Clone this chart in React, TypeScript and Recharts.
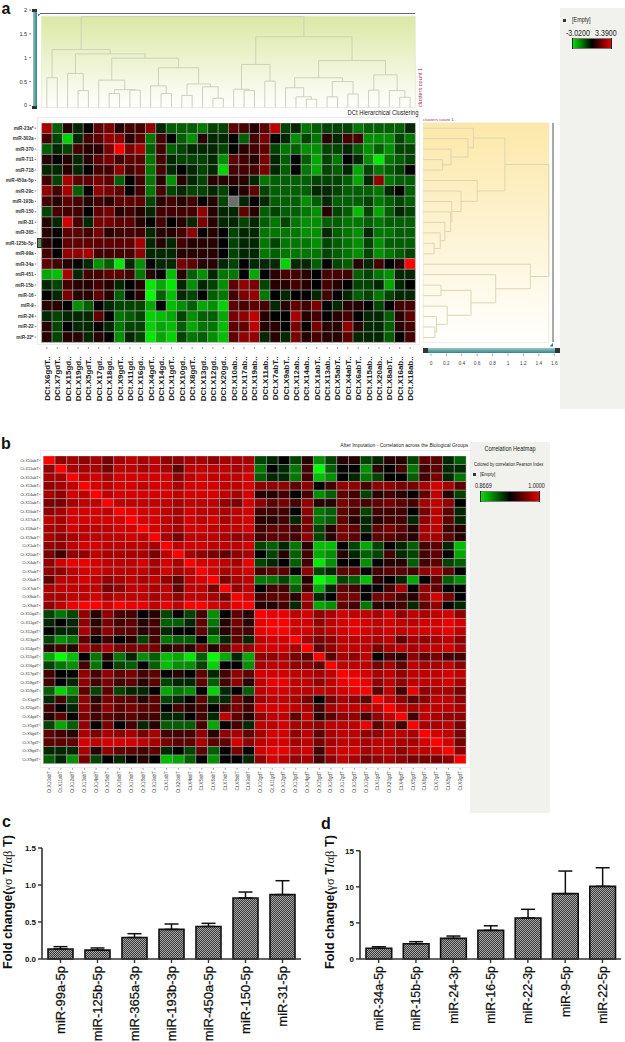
import React from "react";
import {
  Bar,
  BarChart,
  ErrorBar,
  ReferenceArea,
  Scatter,
  ScatterChart,
  XAxis,
  YAxis,
} from "recharts";

// levels -10 (pure green) .. 10 (pure red), null = missing
const clusterRowLabels = ["miR-23a*", "miR-302a", "miR-370", "miR-711", "miR-718", "miR-450a-5p", "miR-29c", "miR-193b", "miR-150", "miR-31", "miR-365", "miR-125b-5p", "miR-99a", "miR-34a", "miR-451", "miR-15b", "miR-16", "miR-9", "miR-24", "miR-22", "miR-22*"];
const clusterColLabels = ["X6gdT", "X7gdT", "X15gd", "X19gd", "X5gdT", "X17gd", "X18gd", "X9gdT", "X11gd", "X16gd", "X4gdT", "X14gd", "X1gdT", "X10gd", "X8gdT", "X13gd", "X12gd", "X20gd", "X10ab", "X17ab", "X19ab", "X11ab", "X7abT", "X9abT", "X12ab", "X14ab", "X1abT", "X13ab", "X5abT", "X4abT", "X6abT", "X15ab", "X20ab", "X8abT", "X16ab", "X18ab"];
const clusterLevels: (number | null)[][] = [
  [6,-3,1,-1,0,3,4,1,2,2,5,-1,-3,-3,-3,-4,-2,-2,3,2,1,3,7,-2,-1,-4,-3,-2,-2,-2,-4,-3,-3,-3,-3,-1],
  [2,-2,-8,-1,2,3,5,5,1,3,-4,2,0,-3,-5,1,-1,-1,0,-3,2,4,0,-1,-5,-2,-4,1,-1,2,2,-5,-5,-5,-2,-4],
  [-3,-1,-2,2,1,1,4,10,4,6,-3,2,-3,-2,-1,-1,-1,-2,0,1,2,3,-2,-4,-3,-5,-5,-2,-2,-1,-3,-5,-3,-5,-2,-2],
  [1,0,1,-1,1,3,4,2,3,3,-4,2,-1,-2,-2,-2,-1,-5,3,2,1,4,-1,-3,0,-3,-6,-2,-4,0,-1,-5,-9,-4,-3,-2],
  [-1,-1,1,-1,0,2,2,5,2,3,-4,2,-1,0,-1,-2,-1,-8,2,2,2,4,-1,-3,0,-4,-6,-2,-3,-1,-6,-2,-4,-3,-2,0],
  [2,-2,6,3,3,4,3,-3,0,2,-4,1,-5,1,-1,-2,1,1,1,1,-1,-4,-3,-3,-3,-3,-2,-2,-2,-3,-6,-1,5,-4,-3,-3],
  [5,2,6,-3,0,5,4,3,0,2,-4,2,-2,-1,-2,-2,-1,-2,0,1,3,-2,-3,-3,-3,-3,-1,-1,-2,-3,-3,-3,-4,-1,0,-3],
  [2,1,3,2,1,2,1,3,3,3,-2,1,2,1,2,0,1,-2,null,-1,0,-1,-3,-3,-3,-5,-3,-1,-3,-3,-3,-2,-4,-3,-2,-3],
  [-2,2,2,2,0,3,4,1,2,1,-1,2,2,2,2,5,1,-1,-1,3,1,-3,-2,-3,-3,-4,-5,1,-2,-3,-7,-2,-6,-3,-1,-2],
  [1,-1,8,2,-1,4,4,3,3,1,0,2,0,1,-1,4,1,-1,-1,-2,-1,-3,-4,-2,-4,-5,-5,-3,-3,-4,-4,-3,-4,-3,-3,-3],
  [1,0,3,3,2,4,1,2,2,2,-1,1,1,2,5,0,1,0,-2,-1,-1,-4,-4,-4,-4,-5,-5,-1,-3,-4,-5,-1,-4,-4,-3,-3],
  [1,0,3,3,3,3,3,3,3,6,-1,1,-1,2,1,1,1,0,-2,-1,-1,-4,-2,-4,-4,-4,-5,-2,-3,-4,-5,-2,-5,-3,-3,-3],
  [2,0,5,5,6,2,2,2,2,5,-1,-1,-1,1,1,1,1,0,-2,-1,-1,-4,-3,-4,-4,-4,-4,-2,-3,-4,-5,-2,-5,-4,-3,-2],
  [3,2,1,0,-1,-5,-3,-9,-1,-5,0,-1,-1,4,3,1,1,-1,-2,0,-1,-1,-1,-8,-1,-1,-3,0,-2,-3,1,-1,2,0,1,10],
  [-6,-7,6,-1,2,2,3,3,2,-4,1,0,-7,1,-3,-5,-1,-4,-4,0,-6,0,1,2,2,1,0,2,2,2,-3,-2,-4,-5,-1,-1],
  [-1,-2,2,1,1,2,1,-1,0,1,-9,-6,-9,-1,-5,-1,-2,-5,3,5,4,-2,1,1,2,1,0,2,1,0,-2,-2,-1,-6,-1,0],
  [0,-1,4,1,1,3,1,-3,0,1,-10,-3,-7,-1,-2,0,-3,-4,2,4,5,-4,0,-1,0,0,-1,2,0,-1,-3,-2,-4,-2,-1,-1],
  [1,1,0,-5,-3,0,-1,-2,-2,-2,-6,0,-7,-5,-3,-6,-5,-8,3,2,3,2,-1,1,3,2,4,0,-1,1,1,0,-2,0,2,2],
  [-1,-2,-1,-1,-1,3,0,-4,-3,-2,-8,-7,-6,-2,-5,-3,-3,-6,4,5,7,1,0,0,6,1,2,0,1,2,0,-1,-1,-3,1,3],
  [1,-2,0,-1,-1,0,-1,-4,-2,-2,-8,-6,-7,-3,-6,-4,-4,-7,3,3,7,1,1,0,4,0,4,1,1,5,1,-1,-1,-3,1,2],
  [1,-2,1,1,-1,1,0,-5,-1,-2,-9,-6,-8,-2,-4,-3,-5,-7,3,5,5,-1,1,-1,4,1,2,1,1,3,-1,-1,-1,-3,0,2],
];

const sampleIds = ["X10", "X11", "X12", "X13", "X14", "X15", "X16", "X17", "X18", "X19", "X1", "X20", "X4", "X5", "X6", "X7", "X8", "X9"];
const corrLabels = [...sampleIds.map((s) => `Ct.${s}abT`), ...sampleIds.map((s) => `Ct.${s}gdT`)];
const corrLevels: number[][] = [
  [10,5,6,5,6,4,6,7,6,7,5,5,6,6,5,6,6,6,-2,-1,0,-2,1,-5,-2,1,1,-2,-1,1,1,-2,3,3,-1,-3],
  [5,10,6,6,6,4,7,7,6,7,6,3,7,7,7,7,6,7,-4,0,-1,-4,2,-10,-3,0,0,-5,1,0,2,-4,2,3,-1,-1],
  [6,6,10,7,8,6,8,8,8,8,8,5,7,8,7,7,7,8,-3,-1,-1,-4,2,-7,-5,0,-1,-4,-2,0,0,-3,2,4,-1,-4],
  [5,6,7,10,8,7,8,8,7,8,8,6,8,8,8,7,7,8,5,5,5,3,5,0,2,5,5,2,5,5,4,4,6,8,6,3],
  [6,5,8,7,10,7,8,8,8,8,8,7,8,8,8,7,6,8,1,1,2,0,2,-5,-3,3,2,-2,1,2,1,0,3,7,1,-2],
  [4,4,6,7,7,10,7,7,7,7,7,6,7,7,7,5,4,8,5,3,4,2,5,1,1,4,3,2,3,4,3,2,6,7,5,0],
  [5,6,8,8,8,7,10,9,8,8,7,6,8,7,7,6,7,8,2,2,2,0,5,-4,-3,3,2,-2,2,2,2,0,4,7,3,-1],
  [7,6,8,8,8,8,8,10,8,8,7,6,8,7,8,6,7,8,1,1,2,-1,4,-4,-3,3,1,-1,1,2,2,-1,5,7,3,-1],
  [6,6,8,7,7,7,8,8,10,8,7,6,8,8,7,7,7,8,2,3,3,2,4,-2,1,4,3,-1,3,4,3,1,6,7,2,1],
  [6,5,6,7,7,7,7,8,7,10,6,4,7,7,7,6,5,6,2,3,3,2,5,-2,1,4,3,0,3,3,2,1,6,6,3,1],
  [5,5,7,8,8,7,7,7,7,6,10,7,8,8,7,7,7,8,-2,-3,-1,-4,1,-7,-7,0,-2,-6,-2,0,-1,-3,2,3,-1,-7],
  [4,2,5,5,7,6,6,6,6,4,7,10,6,5,4,3,5,6,0,-2,1,-3,2,-6,-5,1,-1,-3,-2,2,-1,-2,2,3,0,-6],
  [5,8,9,9,8,7,7,7,8,6,8,6,10,8,8,7,6,9,-2,-1,0,-3,2,-9,-5,0,0,-5,0,1,1,-3,2,3,-2,-3],
  [5,5,7,8,8,7,7,7,7,6,8,6,7,10,8,6,7,8,2,3,3,0,5,-2,-1,3,3,0,2,3,3,2,5,6,3,0],
  [3,7,7,8,7,5,6,7,6,7,5,3,7,8,10,4,6,7,-4,-4,-2,-5,1,-10,-8,-2,-3,-7,1,0,-1,-6,0,3,-3,-5],
  [6,7,7,7,7,4,5,7,7,6,7,3,7,7,4,10,5,7,0,2,2,-3,2,-6,-1,3,2,0,0,2,6,0,5,3,0,0],
  [6,6,7,7,8,6,7,7,7,6,7,5,7,7,6,4,10,8,2,3,3,1,6,-1,0,4,4,0,4,4,2,1,5,8,4,0],
  [5,7,9,10,10,8,10,9,9,7,9,7,10,10,8,7,9,10,1,1,2,-1,5,-6,-5,3,2,-4,1,1,2,-1,3,5,0,-1],
  [-2,-4,-2,5,1,5,2,2,0,1,-2,0,-2,2,-5,0,3,1,10,9,9,7,8,5,6,8,7,7,6,8,5,7,6,7,8,5],
  [-1,0,-1,5,1,4,2,3,1,2,-3,-3,-1,3,-4,1,4,1,9,10,10,8,8,5,7,8,9,8,7,8,7,7,8,8,9,8],
  [0,-1,-1,6,2,5,3,3,1,2,-1,0,0,3,-2,1,3,2,9,10,10,8,8,6,7,8,9,8,7,8,7,8,8,8,9,7],
  [-2,-5,-4,3,0,2,0,1,-2,2,-4,-3,-3,0,-5,-1,3,-1,7,8,8,10,6,4,5,7,7,7,6,7,3,6,5,6,7,5],
  [1,2,1,6,4,6,4,4,4,4,1,2,1,4,1,3,6,5,8,8,8,6,10,3,5,7,7,7,4,6,7,6,7,7,8,6],
  [-6,-10,-7,0,-4,1,-4,-1,-5,-3,-7,-6,-9,-3,-10,-6,-1,-6,5,5,6,4,3,10,3,6,5,7,0,2,1,5,3,4,2,2],
  [-2,-4,-5,2,-4,0,-2,-3,0,-3,-7,-5,-5,-2,-8,0,0,-5,6,7,7,5,5,3,10,7,7,7,4,6,3,7,6,6,7,5],
  [2,0,0,5,2,5,3,4,2,3,0,1,0,3,-1,2,5,3,8,8,8,7,7,6,7,10,9,8,6,7,5,7,7,7,8,7],
  [2,0,-1,5,2,4,2,3,1,3,-2,-1,-1,3,-3,2,5,1,7,9,9,7,7,5,7,9,10,9,5,7,5,7,7,7,8,6],
  [-3,-8,-5,3,-2,3,-2,-1,-1,0,-6,-4,-5,0,-8,-1,0,-3,7,8,8,7,7,7,7,8,9,10,3,7,2,9,5,6,6,4],
  [-1,2,-2,5,1,4,3,3,1,3,-2,-1,0,3,-2,-1,4,1,6,7,7,6,4,0,4,6,5,3,10,7,5,3,5,7,7,5],
  [2,0,-1,5,2,5,3,4,3,3,0,2,1,2,0,2,4,2,8,8,8,7,6,2,6,7,7,7,7,10,7,6,7,7,7,6],
  [1,3,0,4,2,3,2,3,2,2,-1,-1,0,2,-1,7,3,1,5,7,7,3,7,1,3,5,5,2,5,7,10,2,7,6,5,5],
  [-2,-6,-3,5,0,4,0,2,-1,1,-3,-3,-3,2,-6,0,2,-1,7,7,8,6,6,5,7,7,7,9,3,6,2,10,6,6,7,4],
  [3,2,1,6,4,6,5,6,4,6,2,2,2,5,1,5,6,3,6,8,8,5,7,3,6,7,7,5,5,7,7,6,10,8,7,4],
  [3,3,3,8,7,8,8,8,7,6,4,3,3,6,3,3,8,5,7,8,8,6,7,4,6,7,7,6,7,7,6,6,8,10,8,4],
  [-1,-1,-1,6,1,5,3,3,2,3,-1,0,-2,3,-3,0,4,0,8,9,9,7,8,2,7,8,8,6,7,7,5,7,7,8,10,5],
  [-3,-1,-5,4,-2,0,-1,0,1,0,-7,-6,-3,0,-5,0,0,-1,5,8,7,5,6,2,5,7,6,4,5,6,5,4,4,4,5,10],
];

// dendrograms: [merge height, child, child], a bare number is a leaf index
type Tree = number | [number, Tree, Tree];
const columnTree: Tree = [1.86,
  [1.17, [0.58, 0, 1],
    [1.08, [0.67, 2, [0.31, 3, 4]],
      [0.99, [0.53, 5, [0.33, [0.25, 6, 7], [0.32, 8, 9]]],
        [0.79, [0.41, 10, [0.25, 11, 12]],
          [0.45, [0.21, 13, 14], [0.39, 15, [0.15, 16, 17]]]]]]],
  [1.44, [0.86, [0.34, 18, [0.31, 19, 20]], [0.51, 21, 22]],
    [0.94, [0.58, [0.37, 23, [0.18, 24, [0.13, 25, 26]]], [0.5, [0.18, 27, 28], [0.24, 29, 30]]],
      [0.64, [0.32, 31, 32], [0.31, 33, [0.17, 34, 35]]]]]];
const rowTree: Tree = [1.53,
  [0.96, [0.55, 0, [0.48, 1, [0.26, 2, [0.15, 3, 4]]]],
    [0.6, 5, [0.39, 6, [0.27, 7, [0.255, 8, [0.18, 9, [0.12, 10, [0.04, 11, 12]]]]]]]],
  [1.29, 13, [0.84, 14, [0.52, [0.13, 15, 16], [0.21, 17, [0.07, 18, [0.05, 19, 20]]]]]]];

const foldLabelsC = ["miR-99a-5p", "miR-125b-5p", "miR-365a-3p", "miR-193b-3p", "miR-450a-5p", "miR-150-5p", "miR-31-5p"];
const foldValuesC = [0.135, 0.12, 0.29, 0.4, 0.44, 0.825, 0.87];
const foldErrorsC = [0.032, 0.029, 0.052, 0.073, 0.042, 0.08, 0.188];
const foldLabelsD = ["miR-34a-5p", "miR-15b-5p", "miR-24-3p", "miR-16-5p", "miR-22-3p", "miR-9-5p", "miR-22-5p"];
const foldValuesD = [1.48, 2.12, 2.86, 3.97, 5.68, 9.05, 10.06];
const foldErrorsD = [0.22, 0.28, 0.32, 0.63, 1.2, 3.13, 2.58];

const SANS = "'Liberation Sans', Arial, sans-serif";

// brighten the mid levels a bit, the published reds read hotter than a linear ramp
const ramp = (v: number) => Math.round(255 * Math.pow(Math.abs(v) / 10, 0.82));
const levelColor = (v: number | null) =>
  v === null ? "#6e6e6e" : v >= 0 ? `rgb(${ramp(v)},0,0)` : `rgb(0,${ramp(v)},0)`;

function Heatmap({ rows, left, top, width, height, plotW, plotH, rowTick, colTick }: any) {
  const nRows = rows.length;
  const nCols = rows[0].length;
  const cw = plotW / nCols;
  const ch = plotH / nRows;
  const cells = rows.flatMap((r: any[], y: number) => r.map((v, x) => ({ x: x + 0.5, y: y + 0.5, v })));
  const centers = (n: number) => Array.from({ length: n }, (_, i) => i + 0.5);
  return (
    <div style={{ position: "absolute", left, top }}>
      <ScatterChart width={width} height={height} margin={{ top: 0, left: 0, right: width - rowTick.w - plotW, bottom: 0 }}>
        <XAxis type="number" dataKey="x" domain={[0, nCols]} ticks={centers(nCols)} interval={0} height={height - plotH}
          axisLine={false} tickLine={false} tickSize={0} tickMargin={0} tick={colTick} />
        <YAxis type="number" dataKey="y" domain={[0, nRows]} reversed ticks={centers(nRows)} interval={0} width={rowTick.w}
          axisLine={false} tickLine={false} tickSize={0} tickMargin={0} tick={rowTick.render} />
        <Scatter data={cells} isAnimationActive={false}
          shape={(p: any) => (
            <rect x={p.cx - cw / 2} y={p.cy - ch / 2} width={cw} height={ch} fill={levelColor(p.payload.v)}
              stroke="#a8a8a8" strokeOpacity={0.65} strokeWidth={0.8} />
          )} />
      </ScatterChart>
    </div>
  );
}

function treeLinks(tree: Tree, base: number) {
  const links: { pos: number; h: number }[][] = [];
  const walk = (n: Tree): { pos: number; h: number } => {
    if (typeof n === "number") return { pos: n + 0.5, h: base };
    const a = walk(n[1]);
    const b = walk(n[2]);
    links.push([a, { pos: a.pos, h: n[0] }, { pos: b.pos, h: n[0] }, b]);
    return { pos: (a.pos + b.pos) / 2, h: n[0] };
  };
  walk(tree);
  return links;
}

const columnLinks = treeLinks(columnTree, -0.04).map((l) => l.map((p) => ({ x: p.pos, y: p.h })));
const rowLinks = treeLinks(rowTree, -0.1).map((l) => l.map((p) => ({ x: p.h, y: p.pos })));

const Abs = ({ x, y, w, h, bg, style }: any) => (
  <div style={{ position: "absolute", left: x, top: y, width: w, height: h, background: bg, ...style }} />
);

// the software panels use a condensed face, no narrow font here so squeeze the sans
const Txt = ({ x, y, right, size, color = "#222", bold, squeeze = true, origin, children, style }: any) => (
  <div style={{ position: "absolute", left: x, right: right !== undefined ? 625 - right : undefined, top: y, fontSize: size, lineHeight: 1,
    color, fontWeight: bold ? 700 : 400, fontFamily: SANS, whiteSpace: "nowrap",
    transform: squeeze ? "scaleX(0.84)" : undefined,
    transformOrigin: origin ?? (right !== undefined ? "right center" : "left center"), ...style }}>{children}</div>
);

const PANEL_H = 232;

function FoldChart({ labels, values, errors, left, top, width, plotW, plotTop, plotH, domain, ticks, fmt, titleX, titleY, labelSize, id, barSize, capW }: any) {
  const data = labels.map((name: string, i: number) => ({ name, value: values[i], err: [0, errors[i]] }));
  return (
    <div style={{ position: "absolute", left, top }}>
      <BarChart width={width} height={PANEL_H} data={data} barCategoryGap={0}
        margin={{ top: plotTop, left: 0, right: width - 45 - plotW, bottom: 0 }}>
        <defs>
          <pattern id={id} width={2} height={2} patternUnits="userSpaceOnUse">
            <rect width={2} height={2} fill="#a8a8a8" />
            <rect width={1} height={1} fill="#3a3a3a" />
            <rect x={1} y={1} width={1} height={1} fill="#3a3a3a" />
          </pattern>
        </defs>
        <text transform={`rotate(-90 ${titleX} ${titleY})`} x={titleX} y={titleY} fontFamily={SANS} fontWeight={700} fontSize={12.6} fill="#111">
          Fold change(<tspan fontFamily="'Liberation Serif', serif" fontWeight={400}>γσ</tspan> T/<tspan fontFamily="'Liberation Serif', serif" fontWeight={400}>αβ</tspan> T)
        </text>
        <XAxis dataKey="name" interval={0} height={PANEL_H - plotTop - plotH} stroke="#333" tickSize={4} tickMargin={0}
          axisLine={{ stroke: "#333", strokeWidth: 1.6 }} tickLine={{ stroke: "#333", strokeWidth: 1.4 }}
          tick={(p: any) => (
            <text transform={`rotate(-90 ${p.x + 4.5} ${p.y + 3})`} x={p.x + 4.5} y={p.y + 3} textAnchor="end"
              fontFamily={SANS} fontSize={labelSize} fill="#111" stroke="#111" strokeWidth={0.25}>{p.payload.value}</text>
          )} />
        <YAxis domain={domain} ticks={ticks} width={45} stroke="#333" tickSize={4} tickMargin={2} tickFormatter={fmt}
          axisLine={{ stroke: "#333", strokeWidth: 1.6 }} tickLine={{ stroke: "#333", strokeWidth: 1.4 }}
          tick={{ fontFamily: SANS, fontWeight: 700, fontSize: 8, fill: "#111" }} />
        <Bar dataKey="value" barSize={barSize} fill={`url(#${id})`} stroke="#111" strokeWidth={1.6} isAnimationActive={false}>
          <ErrorBar dataKey="err" direction="y" width={capW} stroke="#111" strokeWidth={1.5} isAnimationActive={false} />
        </Bar>
      </BarChart>
    </div>
  );
}

export default function App() {
  return (
    <div style={{ position: "absolute", left: 0, top: 0, width: 625, height: 1042, background: "#fff", overflow: "hidden" }}>
      {/* side panels */}
      <Abs x={560} y={8} w={65} h={401} bg="#f1f2ed" />
      <Abs x={470} y={442} w={80} h={371} bg="#f1f2ed" />
      {/* frames */}
      <Abs x={36.5} y={116.5} w={383} h={228} style={{ border: "1.5px solid #ececec", boxSizing: "border-box" }} />
      <Abs x={39.5} y={450} w={431} h={318} style={{ border: "1.5px solid #ececec", boxSizing: "border-box" }} />

      {/* a: column dendrogram */}
      <div style={{ position: "absolute", left: 0, top: 0 }}>
        <ScatterChart width={420} height={115} margin={{ top: 10, left: 0, right: 4.7, bottom: 7.5 }}>
          <defs>
            <linearGradient id="greenBg" x1="0" y1="0" x2="0" y2="1">
              <stop offset="0" stopColor="#dbe8a4" />
              <stop offset="1" stopColor="#ffffff" />
            </linearGradient>
          </defs>
          <XAxis type="number" dataKey="x" domain={[0, 36]} hide />
          <YAxis type="number" dataKey="y" domain={[-0.044, 2]} ticks={[0, 0.5, 1, 1.5, 2]} interval={0} width={41.7}
            axisLine={false} tickLine={false} tickSize={0} tickMargin={0}
            tick={(p: any) => (
              <g>
                <line x1={p.x - 12.5} x2={p.x - 10.5} y1={p.y} y2={p.y} stroke="#444" strokeWidth={0.7} />
                <text x={p.x - 14.5} y={p.y + 2} textAnchor="end" fontFamily={SANS} fontSize={5.6} fill="#333">{p.payload.value}</text>
              </g>
            )} />
          <ReferenceArea x1={0} x2={36} y1={-0.044} y2={1.87} fill="url(#greenBg)" fillOpacity={1} stroke="#e3e8cf" strokeWidth={0.8} />
          {columnLinks.map((l, i) => (
            <Scatter key={i} data={l} line={{ stroke: "#ccd2ba", strokeWidth: 1 }} shape={() => null} isAnimationActive={false} />
          ))}
        </ScatterChart>
      </div>
      <Abs x={40} y={12.5} w={375} h={1.5} bg="#666" />
      <Abs x={32.7} y={12} w={4} h={95} bg="linear-gradient(90deg,#8fc4c0,#2f8287)" />
      <Abs x={32} y={8.5} w={4.5} h={3.5} bg="#333" />
      <Abs x={32} y={105.5} w={4.5} h={3} bg="#333" />
      <Abs x={37.5} y={13.5} w={3.5} h={3.5} bg="#2f7f86" style={{ clipPath: "polygon(0 0,100% 0,0 100%)" }} />
      <Txt right={418} y={108.5} size={7}>DCt Hierarchical Clustering</Txt>
      <Txt x={417.5} y={85} size={5.6} color="#9c3550" squeeze={false} origin="left top"
        style={{ transform: "rotate(-90deg) translateX(-22px)" }}>clusters count 1</Txt>
      <Txt x={423} y={118} size={4.4} color="#9c3550" squeeze={false}>clusters count 1</Txt>

      {/* a: heat map */}
      <Heatmap rows={clusterLevels} left={0} top={122.7} width={420} height={285} plotW={373.6} plotH={219.3}
        rowTick={{
          w: 41.7,
          render: (p: any) => (
            <g>
              <line x1={p.x - 7} x2={p.x - 5.5} y1={p.y} y2={p.y} stroke="#444" strokeWidth={0.7} />
              <text x={p.x - 8} y={p.y + 1.7} textAnchor="end" fontFamily={SANS} fontWeight={700} fontSize={4.7} fill="#333">
                {clusterRowLabels[Math.floor(p.payload.value)]}
              </text>
            </g>
          ),
        }}
        colTick={(p: any) => (
          <g>
            <line x1={p.x} x2={p.x} y1={p.y + 5} y2={p.y + 6.5} stroke="#444" strokeWidth={0.7} />
            <text transform={`rotate(-90 ${p.x + 3} ${p.y + 14})`} x={p.x + 3} y={p.y + 14} textAnchor="end"
              fontFamily={SANS} fontWeight={700} fontSize={8} fill="#222">
              {`DCt.${clusterColLabels[Math.floor(p.payload.value)]}..`}
            </text>
          </g>
        )} />
      <Abs x={36.7} y={237.7} w={5} h={10} bg="#5d8a5d" style={{ border: "0.7px solid #333", boxSizing: "border-box" }} />

      {/* a: row dendrogram */}
      <div style={{ position: "absolute", left: 420, top: 117.7 }}>
        <ScatterChart width={145} height={255} margin={{ top: 5, left: 3.3, right: 7, bottom: 0 }}>
          <defs>
            <linearGradient id="yellowBg" x1="0" y1="0" x2="0" y2="1">
              <stop offset="0" stopColor="#fce8a8" />
              <stop offset="1" stopColor="#ffffff" />
            </linearGradient>
          </defs>
          <XAxis type="number" dataKey="x" domain={[-0.1, 1.649]} ticks={[0, 0.2, 0.4, 0.6, 0.8, 1, 1.2, 1.4, 1.6]} interval={0} height={30.3}
            axisLine={false} tickLine={false} tickSize={0} tickMargin={0}
            tick={(p: any) => (
              <g>
                <line x1={p.x} x2={p.x} y1={p.y + 11} y2={p.y + 13} stroke="#555" strokeWidth={0.6} />
                <text x={p.x} y={p.y + 22} textAnchor="middle" fontFamily={SANS} fontSize={4.8} fill="#444">{p.payload.value}</text>
              </g>
            )} />
          <YAxis type="number" dataKey="y" domain={[0, 21]} reversed hide />
          <ReferenceArea x1={-0.1} x2={1.53} y1={0} y2={21} fill="url(#yellowBg)" fillOpacity={1} stroke="#ece6cf" strokeWidth={0.8} />
          {rowLinks.map((l, i) => (
            <Scatter key={i} data={l} line={{ stroke: "#ddd6b4", strokeWidth: 1 }} shape={() => null} isAnimationActive={false} />
          ))}
        </ScatterChart>
      </div>
      <Abs x={552} y={123} w={2} h={219} bg="#a9a9a9" />
      <Abs x={423} y={348} w={137} h={4.5} bg="linear-gradient(180deg,#9cc9c4,#2f8287)" />
      <Abs x={423} y={348} w={5} h={4.5} bg="#333" />
      <Abs x={554.5} y={348} w={5.5} h={4.5} bg="#333" />
      <Abs x={549.5} y={343} w={3.5} h={3.5} bg="#2f7f86" style={{ clipPath: "polygon(100% 0,100% 100%,0 100%)" }} />

      {/* a: legend */}
      <Abs x={563} y={18.5} w={3} h={3} bg="#333" />
      <Txt x={572} y={16.5} size={6.5}>[Empty]</Txt>
      <Txt x={566} y={29} size={8.4}>-3.0200</Txt>
      <Txt right={617} y={29} size={8.4}>3.3900</Txt>
      <Abs x={572} y={38} w={40} h={11} bg="linear-gradient(90deg,#00e000,#000 50%,#e00000)" style={{ borderLeft: "1px solid #222", borderRight: "1px solid #222", boxSizing: "border-box", boxShadow: "inset 0 1px #777,inset 0 -1px #777" }} />

      {/* b: correlation heat map */}
      <Txt right={468} y={443} size={5.9}>After Imputation - Correlation across the Biological Groups</Txt>
      <Heatmap rows={corrLevels} left={0} top={455.7} width={470} height={345} plotW={422.7} plotH={307.6}
        rowTick={{
          w: 43.3,
          render: (p: any) => (
            <g>
              <line x1={p.x - 4} x2={p.x - 3} y1={p.y} y2={p.y} stroke="#444" strokeWidth={0.6} />
              <text x={p.x - 4.5} y={p.y + 1.4} textAnchor="end" fontFamily={SANS} fontSize={3.9} fill="#333">
                {corrLabels[Math.floor(p.payload.value)]}
              </text>
            </g>
          ),
        }}
        colTick={(p: any) => (
          <g>
            <line x1={p.x} x2={p.x} y1={p.y + 4.5} y2={p.y + 6} stroke="#444" strokeWidth={0.6} />
            <text transform={`rotate(-90 ${p.x + 1.5} ${p.y + 7.5})`} x={p.x + 1.5} y={p.y + 7.5} textAnchor="end"
              fontFamily={SANS} fontSize={4.6} fill="#444">
              {corrLabels[Math.floor(p.payload.value)]}
            </text>
          </g>
        )} />

      {/* b: legend */}
      <Txt x={470} y={445.5} size={6.6} origin="center center" style={{ width: 80, textAlign: "center" }}>Correlation Heatmap</Txt>
      <Txt x={473.5} y={461.5} size={5}>Colored by correlation Pearson Index</Txt>
      <Abs x={473} y={473} w={2.5} h={2.5} bg="#333" />
      <Txt x={480} y={471.5} size={5.4}>[Empty]</Txt>
      <Txt x={475} y={483} size={6.5}>0.8669</Txt>
      <Txt right={545} y={483} size={6.5}>1.0000</Txt>
      <Abs x={480} y={490.5} w={60} h={11} bg="linear-gradient(90deg,#00e000,#000 50%,#e00000)" style={{ borderLeft: "1px solid #222", borderRight: "1px solid #222", boxSizing: "border-box", boxShadow: "inset 0 1px #777,inset 0 -1px #777" }} />

      {/* c, d */}
      <FoldChart id="dotsC" labels={foldLabelsC} values={foldValuesC} errors={foldErrorsC} left={-3.3} top={810} width={310}
        plotW={259} plotTop={38} plotH={111} domain={[0, 1.5]} ticks={[0, 0.5, 1, 1.5]} fmt={(v: number) => v.toFixed(1)}
        titleX={15} titleY={159} labelSize={13} barSize={25} capW={7} />
      <FoldChart id="dotsD" labels={foldLabelsD} values={foldValuesD} errors={foldErrorsD} left={315} top={810} width={310}
        plotW={261.1} plotTop={40.7} plotH={108.3} domain={[0, 15]} ticks={[0, 5, 10, 15]} fmt={(v: number) => String(v)}
        titleX={18.5} titleY={159} labelSize={12.4} barSize={25.7} capW={7} />

      {/* panel letters */}
      <Txt x={1.5} y={1} size={16} bold squeeze={false} color="#111">a</Txt>
      <Txt x={1} y={436} size={16} bold squeeze={false} color="#111">b</Txt>
      <Txt x={2} y={814} size={16} bold squeeze={false} color="#111">c</Txt>
      <Txt x={321} y={816} size={16} bold squeeze={false} color="#111">d</Txt>
    </div>
  );
}
